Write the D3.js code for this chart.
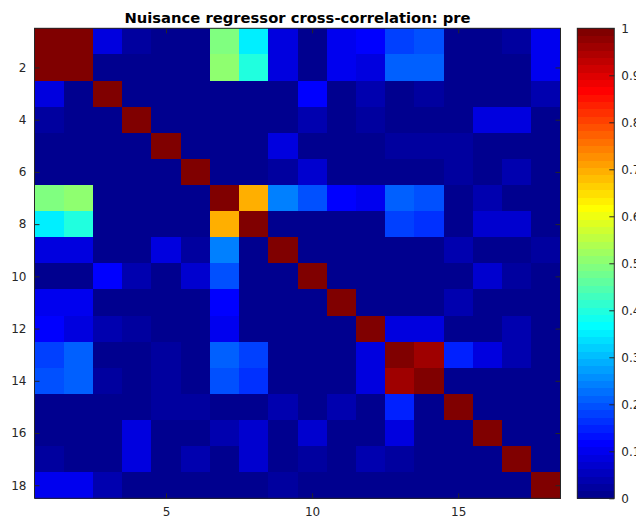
<!DOCTYPE html>
<html lang="en">

<head>
    <meta charset="UTF-8">
    <script src="https://cdn.jsdelivr.net/npm/d3@7"></script>
    <style>
        * {
            margin: 0;
            padding: 0;
        }

        body {
            background: #ffffff;
        }

        text {
            font-family: "DejaVu Sans", sans-serif;
        }
    </style>
    <title>Nuisance regressor cross-correlation</title>
</head>

<body>
    <script>

        const width = 636;
        const height = 519;
        const plot = { left: 34.5, top: 28.3, width: 526, height: 470 };
        const bar = { left: 577.3, width: 37 };
        const axisColor = "#262626";

        const titleText = "Nuisance regressor cross-correlation: pre";
        const regressors = d3.range(1, 19);
        const xTicks = [5, 10, 15];
        const yTicks = [2, 4, 6, 8, 10, 12, 14, 16, 18];
        const colorTicks = [0, 0.1, 0.2, 0.3, 0.4, 0.5, 0.6, 0.7, 0.8, 0.9, 1];

        // correlation matrix, row by row
        const corr = [
            [1, 1, 0.08, 0.03, 0.01, 0.01, 0.49, 0.35, 0.09, 0.01, 0.105, 0.115, 0.18, 0.195, 0.01, 0.01, 0.02, 0.105],
            [1, 1, 0.01, 0.01, 0.01, 0.01, 0.515, 0.40, 0.09, 0.01, 0.105, 0.085, 0.205, 0.205, 0.01, 0.01, 0.005, 0.1],
            [0.08, 0.01, 1, 0.01, 0.01, 0.01, 0.01, 0.01, 0.01, 0.12, 0.01, 0.04, 0.01, 0.03, 0.01, 0.01, 0.01, 0.04],
            [0.03, 0.01, 0.01, 1, 0.01, 0.01, 0.01, 0.01, 0.01, 0.035, 0.01, 0.03, 0.01, 0.01, 0.01, 0.09, 0.09, 0.01],
            [0.01, 0.01, 0.01, 0.01, 1, 0.01, 0.01, 0.01, 0.08, 0.01, 0.01, 0.01, 0.03, 0.03, 0.02, 0.01, 0.01, 0.01],
            [0.01, 0.01, 0.01, 0.01, 0.01, 1, 0.01, 0.01, 0.03, 0.075, 0.01, 0.01, 0.01, 0.01, 0.02, 0.01, 0.045, 0.01],
            [0.49, 0.515, 0.01, 0.01, 0.01, 0.01, 1, 0.695, 0.235, 0.2, 0.115, 0.1, 0.205, 0.2, 0.01, 0.045, 0.01, 0.01],
            [0.35, 0.40, 0.01, 0.01, 0.01, 0.01, 0.695, 1, 0.01, 0.01, 0.01, 0.01, 0.18, 0.16, 0.01, 0.07, 0.07, 0.01],
            [0.09, 0.09, 0.01, 0.01, 0.08, 0.03, 0.235, 0.01, 1, 0.01, 0.01, 0.01, 0.01, 0.01, 0.045, 0.01, 0.01, 0.025],
            [0.01, 0.01, 0.12, 0.035, 0.01, 0.075, 0.2, 0.01, 0.01, 1, 0.01, 0.01, 0.01, 0.01, 0.01, 0.07, 0.025, 0.01],
            [0.105, 0.105, 0.01, 0.01, 0.01, 0.01, 0.115, 0.01, 0.01, 0.01, 1, 0.01, 0.01, 0.01, 0.045, 0.01, 0.01, 0.01],
            [0.115, 0.085, 0.04, 0.03, 0.01, 0.01, 0.1, 0.01, 0.01, 0.01, 0.01, 1, 0.085, 0.085, 0.01, 0.01, 0.045, 0.01],
            [0.18, 0.205, 0.01, 0.01, 0.03, 0.01, 0.205, 0.18, 0.01, 0.01, 0.01, 0.085, 1, 0.955, 0.145, 0.09, 0.04, 0.01],
            [0.195, 0.205, 0.03, 0.01, 0.03, 0.01, 0.2, 0.16, 0.01, 0.01, 0.01, 0.085, 0.955, 1, 0.01, 0.01, 0.01, 0.01],
            [0.01, 0.01, 0.01, 0.01, 0.02, 0.02, 0.01, 0.01, 0.045, 0.01, 0.045, 0.01, 0.145, 0.01, 1, 0.01, 0.01, 0.01],
            [0.01, 0.01, 0.01, 0.09, 0.01, 0.01, 0.045, 0.07, 0.01, 0.07, 0.01, 0.01, 0.09, 0.01, 0.01, 1, 0.01, 0.01],
            [0.02, 0.005, 0.01, 0.09, 0.01, 0.045, 0.01, 0.07, 0.01, 0.025, 0.01, 0.045, 0.03, 0.01, 0.01, 0.01, 1, 0.01],
            [0.105, 0.1, 0.04, 0.01, 0.01, 0.01, 0.01, 0.01, 0.025, 0.01, 0.01, 0.01, 0.01, 0.01, 0.01, 0.01, 0.01, 1]
        ];

        // MATLAB jet(64), discrete
        const nColors = 64;
        function jetColor(k) {
            // k is 1..64
            let r = 0, g = 0, b = 0;
            if (k <= 8) b = (k + 8) / 16;
            else if (k <= 24) b = 1;
            else if (k <= 40) b = (40 - k) / 16;
            if (k >= 9 && k <= 24) g = (k - 8) / 16;
            else if (k >= 25 && k <= 40) g = 1;
            else if (k >= 41 && k <= 56) g = (56 - k) / 16;
            if (k >= 25 && k <= 40) r = (k - 24) / 16;
            else if (k >= 41 && k <= 56) r = 1;
            else if (k >= 57) r = (72 - k) / 16;
            return d3.rgb(r * 255, g * 255, b * 255).formatHex();
        }
        const jet = d3.range(1, nColors + 1).map(jetColor);
        const colorScale = d3.scaleQuantize().domain([0, 1]).range(jet);

        const x = d3.scaleLinear()
            .domain([0.5, 18.5])
            .range([plot.left, plot.left + plot.width]);
        const y = d3.scaleLinear()
            .domain([0.5, 18.5])
            .range([plot.top, plot.top + plot.height]);
        const cY = d3.scaleLinear()
            .domain([0, 1])
            .range([plot.top + plot.height, plot.top]);

        const svg = d3.select("body")
            .append("svg")
            .attr("width", width)
            .attr("height", height);

        drawCells();
        drawAxes();
        drawColorbar();
        drawTitle();

        function drawCells() {
            const cells = [];
            corr.forEach((row, i) => row.forEach((v, j) => cells.push({ r: regressors[i], c: regressors[j], v: v })));
            svg.append("g")
                .selectAll("rect")
                .data(cells)
                .enter()
                .append("rect")
                .attr("x", d => x(d.c - 0.5))
                .attr("y", d => y(d.r - 0.5))
                .attr("width", x(1.5) - x(0.5) + 0.3)
                .attr("height", y(1.5) - y(0.5) + 0.3)
                .attr("fill", d => colorScale(Math.min(d.v, 0.9999)))
                .attr("shape-rendering", "crispEdges");
        }

        function styleAxis(g) {
            g.select(".domain").remove();
            g.selectAll(".tick line").attr("stroke", axisColor);
            g.selectAll(".tick text")
                .attr("fill", axisColor)
                .style("font-size", "12px");
        }

        function drawAxes() {
            const bottom = plot.top + plot.height;
            const right = plot.left + plot.width;
            svg.append("g")
                .attr("transform", `translate(0,${bottom})`)
                .call(d3.axisBottom(x).tickValues(xTicks).tickSizeInner(-5).tickSizeOuter(0).tickPadding(9))
                .call(styleAxis);
            svg.append("g")
                .attr("transform", `translate(0,${plot.top})`)
                .call(d3.axisTop(x).tickValues(xTicks).tickSizeInner(-5).tickSizeOuter(0).tickFormat(""))
                .call(styleAxis);
            svg.append("g")
                .attr("transform", `translate(${plot.left},0)`)
                .call(d3.axisLeft(y).tickValues(yTicks).tickSizeInner(-5).tickSizeOuter(0).tickPadding(8))
                .call(styleAxis);
            svg.append("g")
                .attr("transform", `translate(${right},0)`)
                .call(d3.axisRight(y).tickValues(yTicks).tickSizeInner(-5).tickSizeOuter(0).tickFormat(""))
                .call(styleAxis);
            svg.append("rect")
                .attr("x", plot.left)
                .attr("y", plot.top)
                .attr("width", plot.width)
                .attr("height", plot.height)
                .attr("fill", "none")
                .attr("stroke", axisColor)
                .attr("stroke-width", 1);
        }

        function drawColorbar() {
            const step = 1 / nColors;
            svg.append("g")
                .selectAll("rect")
                .data(jet)
                .enter()
                .append("rect")
                .attr("x", bar.left)
                .attr("y", (d, i) => cY((i + 1) * step))
                .attr("width", bar.width)
                .attr("height", cY(0) - cY(step) + 0.3)
                .attr("fill", d => d)
                .attr("shape-rendering", "crispEdges");
            svg.append("g")
                .attr("transform", `translate(${bar.left + bar.width},0)`)
                .call(d3.axisRight(cY).tickValues(colorTicks).tickSizeInner(-5).tickSizeOuter(0).tickPadding(7).tickFormat(d => d))
                .call(styleAxis);
            svg.append("rect")
                .attr("x", bar.left)
                .attr("y", plot.top)
                .attr("width", bar.width)
                .attr("height", plot.height)
                .attr("fill", "none")
                .attr("stroke", axisColor)
                .attr("stroke-width", 1);
        }

        function drawTitle() {
            svg.append("text")
                .attr("x", plot.left + plot.width / 2)
                .attr("y", 22.5)
                .attr("text-anchor", "middle")
                .attr("fill", "#000000")
                .style("font-size", "14.75px")
                .style("font-weight", "bold")
                .text(titleText);
        }

    </script>
</body>

</html>
